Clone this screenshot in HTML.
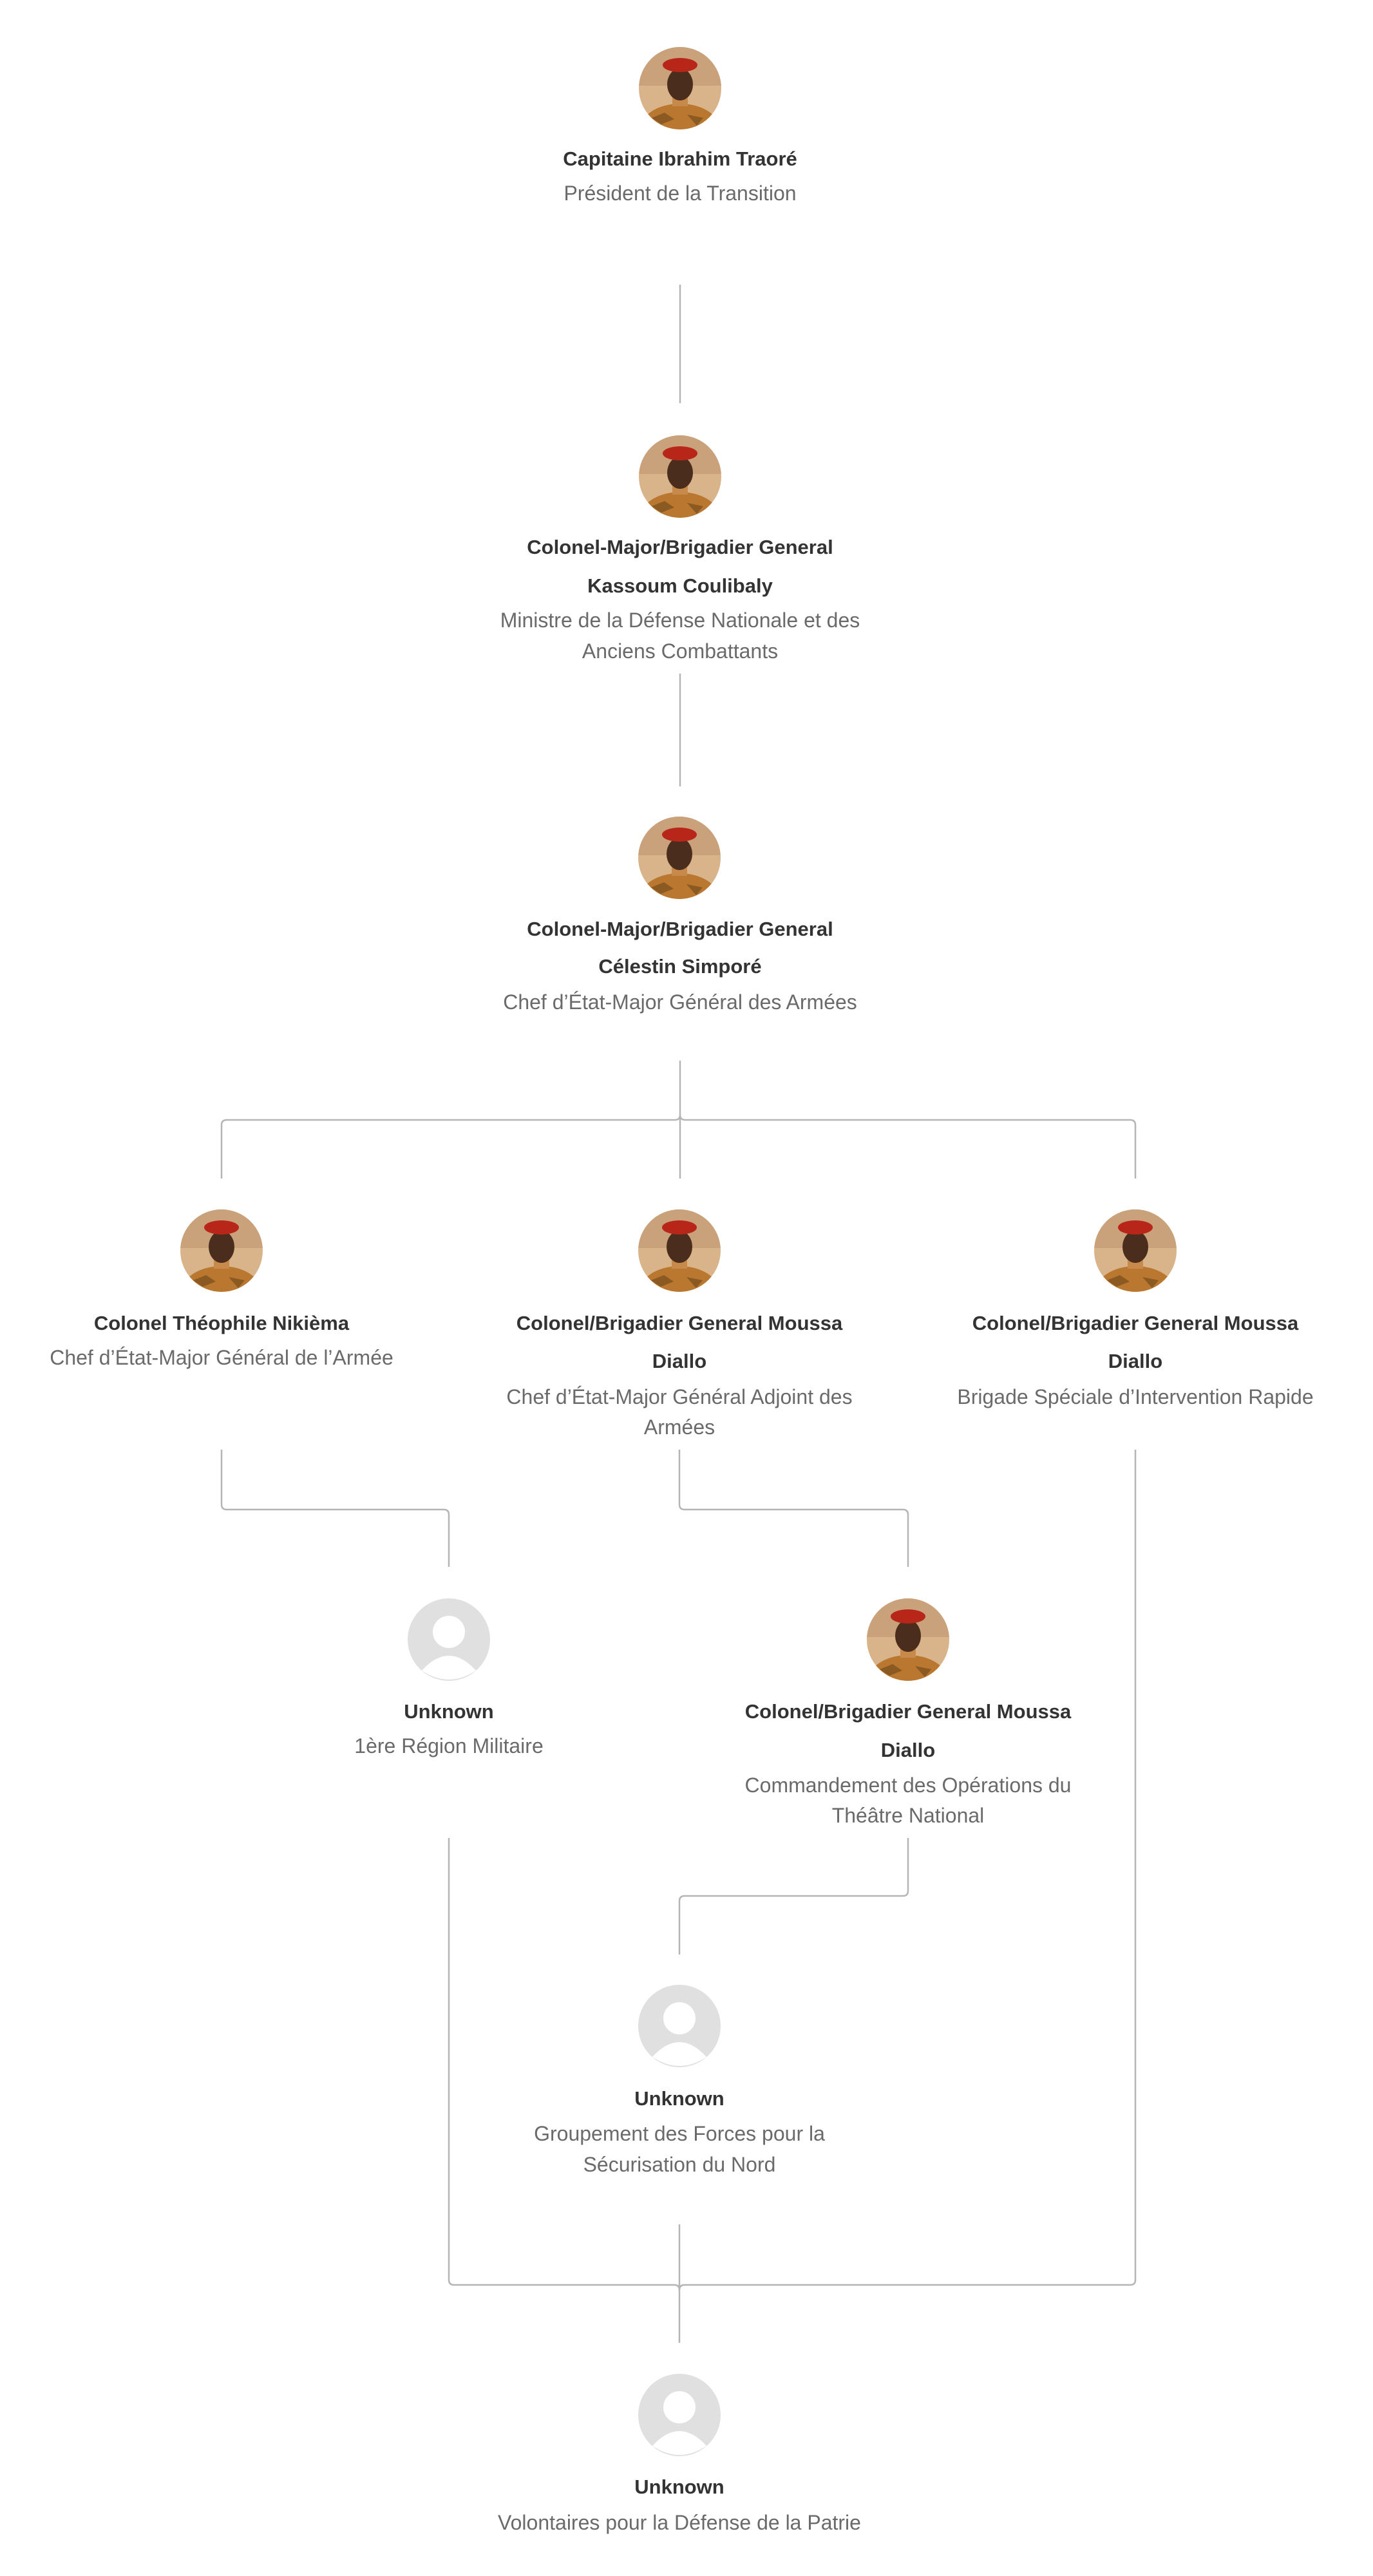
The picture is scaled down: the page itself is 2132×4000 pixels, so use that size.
<!DOCTYPE html>
<html><head><meta charset="utf-8"><style>
html,body{margin:0;padding:0;background:#fff;}
svg{display:block}
.n{font-family:"Liberation Sans",sans-serif;font-weight:bold;font-size:31px;fill:#333;text-anchor:middle}
.s{font-family:"Liberation Sans",sans-serif;font-size:32px;fill:#6a6a6a;text-anchor:middle}
.l{fill:none;stroke:#b5b5b5;stroke-width:2.5}
</style></head><body>
<svg width="2132" height="4000" viewBox="0 0 2132 4000" xmlns="http://www.w3.org/2000/svg">
<defs>
<clipPath id="cc" clipPathUnits="userSpaceOnUse"><circle cx="64" cy="64" r="64"/></clipPath>
<symbol id="ph" viewBox="0 0 128 128">
<g clip-path="url(#cc)">
<rect width="128" height="128" fill="#d9b48a"/>
<rect y="0" width="128" height="60" fill="#c9a27c"/>
<ellipse cx="64" cy="128" rx="62" ry="40" fill="#b9772f"/>
<path d="M20 110 l20-8 l15 10 l-20 8z M75 105 l25 5 l-10 12z" fill="#8a5a22"/>
<rect x="52" y="72" width="24" height="20" fill="#c88a4a"/>
<ellipse cx="64" cy="58" rx="20" ry="25" fill="#4a2d1c"/>
<ellipse cx="64" cy="28" rx="27" ry="11" fill="#b8261a"/>
</g>
</symbol>
<symbol id="un" viewBox="0 0 128 128">
<circle cx="64" cy="64" r="64" fill="#e0e0e0"/>
<circle cx="64" cy="52" r="25" fill="#fff"/>
<path d="M22 112 Q64 66 106 112 Q64 140 22 112z" fill="#fff"/>
</symbol>
</defs>

<path class="l" d="M1056 442 V626"/>
<path class="l" d="M1056 1046 V1221"/>
<path class="l" d="M1056 1647 V1830 M1056 1731 Q1056 1739 1048 1739 H352 Q344 1739 344 1747 V1830 M1056 1731 Q1056 1739 1064 1739 H1755 Q1763 1739 1763 1747 V1830"/>
<path class="l" d="M344 2251 V2336 Q344 2344 352 2344 H689 Q697 2344 697 2352 V2433"/>
<path class="l" d="M1055 2251 V2336 Q1055 2344 1063 2344 H1402 Q1410 2344 1410 2352 V2433"/>
<path class="l" d="M1763 2251 V3540 Q1763 3548 1755 3548 H1063 Q1055 3548 1055 3556 M697 2854 V3540 Q697 3548 705 3548 H1047 Q1055 3548 1055 3556 M1055 3454 V3638"/>
<path class="l" d="M1410 2854 V2936 Q1410 2944 1402 2944 H1063 Q1055 2944 1055 2952 V3035"/>

<use href="#ph" x="992" y="73" width="128" height="128"/>
<use href="#ph" x="992" y="676" width="128" height="128"/>
<use href="#ph" x="991" y="1268" width="128" height="128"/>
<use href="#ph" x="280" y="1878" width="128" height="128"/>
<use href="#ph" x="991" y="1878" width="128" height="128"/>
<use href="#ph" x="1699" y="1878" width="128" height="128"/>
<use href="#un" x="633" y="2482" width="128" height="128"/>
<use href="#ph" x="1346" y="2482" width="128" height="128"/>
<use href="#un" x="991" y="3082" width="128" height="128"/>
<use href="#un" x="991" y="3686" width="128" height="128"/>

<text class="n" x="1056" y="257">Capitaine Ibrahim Traoré</text>
<text class="s" x="1056" y="311">Président de la Transition</text>

<text class="n" x="1056" y="860">Colonel-Major/Brigadier General</text>
<text class="n" x="1056" y="920">Kassoum Coulibaly</text>
<text class="s" x="1056" y="974">Ministre de la Défense Nationale et des</text>
<text class="s" x="1056" y="1022">Anciens Combattants</text>

<text class="n" x="1056" y="1453">Colonel-Major/Brigadier General</text>
<text class="n" x="1056" y="1511">Célestin Simporé</text>
<text class="s" x="1056" y="1567">Chef d’État-Major Général des Armées</text>

<text class="n" x="344" y="2065">Colonel Théophile Nikièma</text>
<text class="s" x="344" y="2119">Chef d’État-Major Général de l’Armée</text>

<text class="n" x="1055" y="2065">Colonel/Brigadier General Moussa</text>
<text class="n" x="1055" y="2124">Diallo</text>
<text class="s" x="1055" y="2180">Chef d’État-Major Général Adjoint des</text>
<text class="s" x="1055" y="2227">Armées</text>

<text class="n" x="1763" y="2065">Colonel/Brigadier General Moussa</text>
<text class="n" x="1763" y="2124">Diallo</text>
<text class="s" x="1763" y="2180">Brigade Spéciale d’Intervention Rapide</text>

<text class="n" x="697" y="2668">Unknown</text>
<text class="s" x="697" y="2722">1ère Région Militaire</text>

<text class="n" x="1410" y="2668">Colonel/Brigadier General Moussa</text>
<text class="n" x="1410" y="2728">Diallo</text>
<text class="s" x="1410" y="2783">Commandement des Opérations du</text>
<text class="s" x="1410" y="2830">Théâtre National</text>

<text class="n" x="1055" y="3269">Unknown</text>
<text class="s" x="1055" y="3324">Groupement des Forces pour la</text>
<text class="s" x="1055" y="3372">Sécurisation du Nord</text>

<text class="n" x="1055" y="3872">Unknown</text>
<text class="s" x="1055" y="3928">Volontaires pour la Défense de la Patrie</text>
</svg>
</body></html>
